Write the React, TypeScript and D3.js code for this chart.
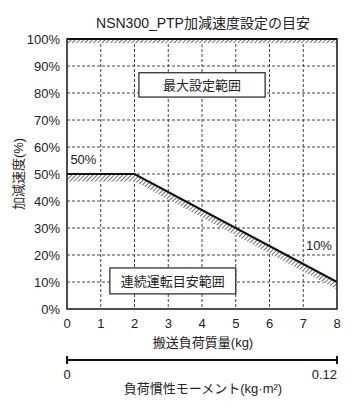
import React, { useEffect, useRef } from 'react';
import * as d3 from 'd3';

// chart data
const massKg = [0, 2, 8];
const accelPct = [50, 50, 10];
const xTicks = [0, 1, 2, 3, 4, 5, 6, 7, 8];
const yTicks = [0, 10, 20, 30, 40, 50, 60, 70, 80, 90, 100];
const inertiaLabels = ['0', '0.12'];
const title = 'NSN300_PTP加減速度設定の目安';
const xTitle = '搬送負荷質量(kg)';
const yTitle = '加減速度(%)';
const inertiaTitle = '負荷慣性モーメント(kg·m²)';
const maxAreaLabel = '最大設定範囲';
const contAreaLabel = '連続運転目安範囲';

const FONT = '"Liberation Sans", "Noto Sans CJK JP", sans-serif';

const App = () => {
    const svgRef = useRef<SVGSVGElement>(null);

    useEffect(() => {
        const svg = d3.select(svgRef.current);
        svg.selectAll('*').remove();

        const left = 67, right = 337, top = 39, bottom = 309;

        const x = d3.scaleLinear().domain([0, 8]).range([left, right]);
        const y = d3.scaleLinear().domain([0, 100]).range([bottom, top]);

        // hatch pattern
        const defs = svg.append('defs');
        const pat = defs.append('pattern')
            .attr('id', 'hatch')
            .attr('patternUnits', 'userSpaceOnUse')
            .attr('width', 3)
            .attr('height', 3)
            .attr('patternTransform', 'rotate(45)');
        pat.append('rect').attr('width', 3).attr('height', 3).attr('fill', '#fff');
        pat.append('line')
            .attr('x1', 0).attr('y1', 0).attr('x2', 0).attr('y2', 3)
            .attr('stroke', '#333').attr('stroke-width', 1.4);

        // title
        svg.append('text')
            .attr('x', 203).attr('y', 28)
            .attr('text-anchor', 'middle')
            .style('font-family', FONT).style('font-size', '14px')
            .attr('fill', '#222')
            .text(title);

        // grid
        svg.append('g')
            .selectAll('line')
            .data(yTicks.filter(d => d > 0 && d < 100))
            .enter().append('line')
            .attr('x1', left).attr('x2', right)
            .attr('y1', d => y(d)).attr('y2', d => y(d))
            .attr('stroke', '#444').attr('stroke-width', 1)
            .attr('stroke-dasharray', '3,2');
        svg.append('g')
            .selectAll('line')
            .data(xTicks.filter(d => d > 0 && d < 8))
            .enter().append('line')
            .attr('y1', top).attr('y2', bottom)
            .attr('x1', d => x(d)).attr('x2', d => x(d))
            .attr('stroke', '#444').attr('stroke-width', 1)
            .attr('stroke-dasharray', '3,2');

        // hatched band at top (max limit)
        svg.append('rect')
            .attr('x', left).attr('y', y(100))
            .attr('width', right - left).attr('height', y(98.5) - y(100))
            .attr('fill', 'url(#hatch)');

        // hatched band under the line
        const pts = massKg.map((m, i) => ({ m, a: accelPct[i] }));
        const band = d3.area<{ m: number; a: number }>()
            .x(d => x(d.m))
            .y0(d => y(d.a))
            .y1(d => y(d.a - 2.8));
        svg.append('path')
            .attr('d', band(pts))
            .attr('fill', 'url(#hatch)');

        // limit line
        const line = d3.line<{ m: number; a: number }>()
            .x(d => x(d.m))
            .y(d => y(d.a));
        svg.append('path')
            .attr('d', line(pts))
            .attr('fill', 'none')
            .attr('stroke', '#111')
            .attr('stroke-width', 2);

        // frame
        svg.append('rect')
            .attr('x', left).attr('y', top)
            .attr('width', right - left).attr('height', bottom - top)
            .attr('fill', 'none')
            .attr('stroke', '#222').attr('stroke-width', 1.6);
        svg.append('line')
            .attr('x1', left).attr('x2', right)
            .attr('y1', top).attr('y2', top)
            .attr('stroke', '#111').attr('stroke-width', 2);

        // area boxes
        const box = (x0: number, x1: number, y0: number, y1: number, label: string) => {
            svg.append('rect')
                .attr('x', x0).attr('y', y0)
                .attr('width', x1 - x0).attr('height', y1 - y0)
                .attr('fill', '#fff').attr('stroke', '#222').attr('stroke-width', 1.2);
            svg.append('text')
                .attr('x', (x0 + x1) / 2).attr('y', (y0 + y1) / 2 + 5)
                .attr('text-anchor', 'middle')
                .style('font-family', FONT).style('font-size', '13px')
                .attr('fill', '#222')
                .text(label);
        };
        box(x(2.13), x(5.87), y(87.5), y(78.5), maxAreaLabel);
        box(x(1.27), x(5.0), y(15.2), y(5.6), contAreaLabel);

        // value labels
        svg.append('text')
            .attr('x', x(0.1)).attr('y', y(53.6))
            .style('font-family', FONT).style('font-size', '13px')
            .attr('fill', '#222').text(`${accelPct[0]}%`);
        svg.append('text')
            .attr('x', x(7.85)).attr('y', y(22))
            .attr('text-anchor', 'end')
            .style('font-family', FONT).style('font-size', '13px')
            .attr('fill', '#222').text(`${accelPct[2]}%`);

        // y tick labels
        svg.append('g')
            .selectAll('text')
            .data(yTicks)
            .enter().append('text')
            .attr('x', 60).attr('y', d => y(d) + 5)
            .attr('text-anchor', 'end')
            .style('font-family', FONT).style('font-size', '13px')
            .attr('fill', '#222')
            .text(d => `${d}%`);

        // x tick labels
        svg.append('g')
            .selectAll('text')
            .data(xTicks)
            .enter().append('text')
            .attr('x', d => x(d)).attr('y', 328)
            .attr('text-anchor', 'middle')
            .style('font-family', FONT).style('font-size', '13px')
            .attr('fill', '#222')
            .text(d => d);

        // axis titles
        svg.append('text')
            .attr('x', 203).attr('y', 347)
            .attr('text-anchor', 'middle')
            .style('font-family', FONT).style('font-size', '13px')
            .attr('fill', '#222')
            .text(xTitle);
        svg.append('text')
            .attr('transform', `translate(23,${(top + bottom) / 2}) rotate(-90)`)
            .attr('text-anchor', 'middle')
            .style('font-family', FONT).style('font-size', '13px')
            .attr('fill', '#222')
            .text(yTitle);

        // inertia scale
        const iy = 360;
        svg.append('line')
            .attr('x1', left).attr('x2', right)
            .attr('y1', iy).attr('y2', iy)
            .attr('stroke', '#111').attr('stroke-width', 2);
        [left, right].forEach(px => {
            svg.append('line')
                .attr('x1', px).attr('x2', px)
                .attr('y1', iy - 4).attr('y2', iy + 4)
                .attr('stroke', '#111').attr('stroke-width', 2);
        });
        svg.append('text')
            .attr('x', left).attr('y', 379)
            .attr('text-anchor', 'middle')
            .style('font-family', FONT).style('font-size', '13px')
            .attr('fill', '#222').text(inertiaLabels[0]);
        svg.append('text')
            .attr('x', right).attr('y', 379)
            .attr('text-anchor', 'end')
            .style('font-family', FONT).style('font-size', '13px')
            .attr('fill', '#222').text(inertiaLabels[1]);
        svg.append('text')
            .attr('x', 203).attr('y', 393)
            .attr('text-anchor', 'middle')
            .style('font-family', FONT).style('font-size', '13px')
            .attr('fill', '#222')
            .text(inertiaTitle);
    }, []);

    return (
        <svg ref={svgRef} width={353} height={410}
            style={{ position: 'absolute', left: 0, top: 0, background: '#fff' }}></svg>
    );
};

export default App;
